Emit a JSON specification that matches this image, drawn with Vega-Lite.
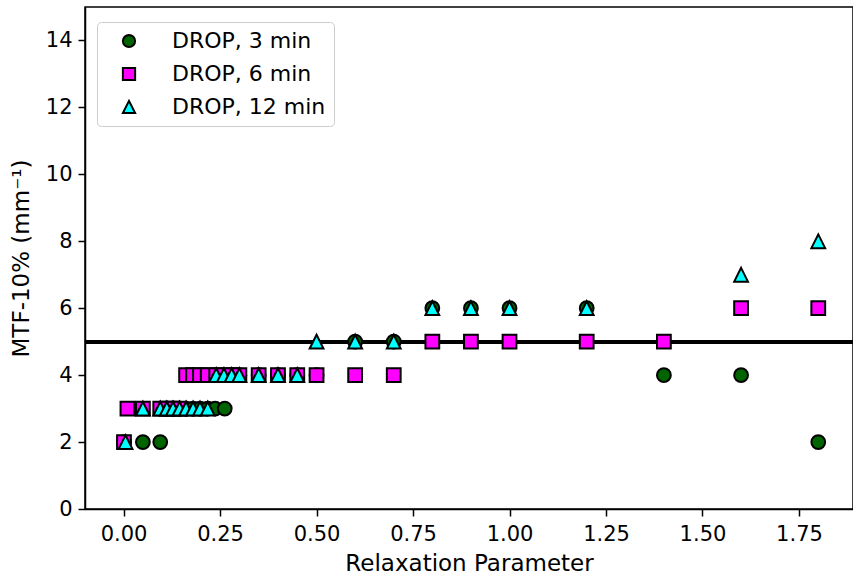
{
  "$schema": "https://vega.github.io/schema/vega-lite/v6.json",
  "width": 768,
  "height": 502,
  "autosize": "none",
  "padding": {"left": 85, "top": 7, "right": 0, "bottom": 70},
  "background": "white",
  "config": {
    "font": "DejaVu Sans",
    "view": {"stroke": "black", "strokeWidth": 1.5},
    "axis": {
      "labelFont": "DejaVu Sans",
      "titleFont": "DejaVu Sans",
      "labelFontSize": 21,
      "titleFontSize": 23,
      "titleFontWeight": "normal",
      "labelColor": "black",
      "titleColor": "black",
      "domainColor": "black",
      "domainWidth": 1.5,
      "tickColor": "black",
      "tickWidth": 1.5,
      "tickSize": 7,
      "grid": false
    }
  },
  "data": {
    "values": [
      {"s": "DROP, 3 min", "x": 0.001, "y": 2},
      {"s": "DROP, 3 min", "x": 0.05, "y": 2},
      {"s": "DROP, 3 min", "x": 0.095, "y": 2},
      {"s": "DROP, 3 min", "x": 0.112, "y": 3},
      {"s": "DROP, 3 min", "x": 0.128, "y": 3},
      {"s": "DROP, 3 min", "x": 0.145, "y": 3},
      {"s": "DROP, 3 min", "x": 0.162, "y": 3},
      {"s": "DROP, 3 min", "x": 0.18, "y": 3},
      {"s": "DROP, 3 min", "x": 0.198, "y": 3},
      {"s": "DROP, 3 min", "x": 0.218, "y": 3},
      {"s": "DROP, 3 min", "x": 0.237, "y": 3},
      {"s": "DROP, 3 min", "x": 0.262, "y": 3},
      {"s": "DROP, 3 min", "x": 0.28, "y": 4},
      {"s": "DROP, 3 min", "x": 0.3, "y": 4},
      {"s": "DROP, 3 min", "x": 0.35, "y": 4},
      {"s": "DROP, 3 min", "x": 0.4, "y": 4},
      {"s": "DROP, 3 min", "x": 0.45, "y": 4},
      {"s": "DROP, 3 min", "x": 0.5, "y": 4},
      {"s": "DROP, 3 min", "x": 0.6, "y": 5},
      {"s": "DROP, 3 min", "x": 0.7, "y": 5},
      {"s": "DROP, 3 min", "x": 0.8, "y": 6},
      {"s": "DROP, 3 min", "x": 0.9, "y": 6},
      {"s": "DROP, 3 min", "x": 1.0, "y": 6},
      {"s": "DROP, 3 min", "x": 1.2, "y": 6},
      {"s": "DROP, 3 min", "x": 1.4, "y": 4},
      {"s": "DROP, 3 min", "x": 1.6, "y": 4},
      {"s": "DROP, 3 min", "x": 1.8, "y": 2},
      {"s": "DROP, 6 min", "x": 0.001, "y": 2},
      {"s": "DROP, 6 min", "x": 0.01, "y": 3},
      {"s": "DROP, 6 min", "x": 0.05, "y": 3},
      {"s": "DROP, 6 min", "x": 0.095, "y": 3},
      {"s": "DROP, 6 min", "x": 0.112, "y": 3},
      {"s": "DROP, 6 min", "x": 0.128, "y": 3},
      {"s": "DROP, 6 min", "x": 0.145, "y": 3},
      {"s": "DROP, 6 min", "x": 0.162, "y": 4},
      {"s": "DROP, 6 min", "x": 0.18, "y": 4},
      {"s": "DROP, 6 min", "x": 0.198, "y": 4},
      {"s": "DROP, 6 min", "x": 0.218, "y": 4},
      {"s": "DROP, 6 min", "x": 0.24, "y": 4},
      {"s": "DROP, 6 min", "x": 0.26, "y": 4},
      {"s": "DROP, 6 min", "x": 0.28, "y": 4},
      {"s": "DROP, 6 min", "x": 0.3, "y": 4},
      {"s": "DROP, 6 min", "x": 0.35, "y": 4},
      {"s": "DROP, 6 min", "x": 0.4, "y": 4},
      {"s": "DROP, 6 min", "x": 0.45, "y": 4},
      {"s": "DROP, 6 min", "x": 0.5, "y": 4},
      {"s": "DROP, 6 min", "x": 0.6, "y": 4},
      {"s": "DROP, 6 min", "x": 0.7, "y": 4},
      {"s": "DROP, 6 min", "x": 0.8, "y": 5},
      {"s": "DROP, 6 min", "x": 0.9, "y": 5},
      {"s": "DROP, 6 min", "x": 1.0, "y": 5},
      {"s": "DROP, 6 min", "x": 1.2, "y": 5},
      {"s": "DROP, 6 min", "x": 1.4, "y": 5},
      {"s": "DROP, 6 min", "x": 1.6, "y": 6},
      {"s": "DROP, 6 min", "x": 1.8, "y": 6},
      {"s": "DROP, 12 min", "x": 0.005, "y": 2},
      {"s": "DROP, 12 min", "x": 0.05, "y": 3},
      {"s": "DROP, 12 min", "x": 0.095, "y": 3},
      {"s": "DROP, 12 min", "x": 0.112, "y": 3},
      {"s": "DROP, 12 min", "x": 0.128, "y": 3},
      {"s": "DROP, 12 min", "x": 0.145, "y": 3},
      {"s": "DROP, 12 min", "x": 0.162, "y": 3},
      {"s": "DROP, 12 min", "x": 0.18, "y": 3},
      {"s": "DROP, 12 min", "x": 0.198, "y": 3},
      {"s": "DROP, 12 min", "x": 0.218, "y": 3},
      {"s": "DROP, 12 min", "x": 0.24, "y": 4},
      {"s": "DROP, 12 min", "x": 0.26, "y": 4},
      {"s": "DROP, 12 min", "x": 0.28, "y": 4},
      {"s": "DROP, 12 min", "x": 0.3, "y": 4},
      {"s": "DROP, 12 min", "x": 0.35, "y": 4},
      {"s": "DROP, 12 min", "x": 0.4, "y": 4},
      {"s": "DROP, 12 min", "x": 0.45, "y": 4},
      {"s": "DROP, 12 min", "x": 0.5, "y": 5},
      {"s": "DROP, 12 min", "x": 0.6, "y": 5},
      {"s": "DROP, 12 min", "x": 0.7, "y": 5},
      {"s": "DROP, 12 min", "x": 0.8, "y": 6},
      {"s": "DROP, 12 min", "x": 0.9, "y": 6},
      {"s": "DROP, 12 min", "x": 1.0, "y": 6},
      {"s": "DROP, 12 min", "x": 1.2, "y": 6},
      {"s": "DROP, 12 min", "x": 1.6, "y": 7},
      {"s": "DROP, 12 min", "x": 1.8, "y": 8}
    ]
  },
  "layer": [
    {
      "mark": {"type": "rule", "color": "black", "strokeWidth": 3},
      "encoding": {"y": {"datum": 5, "type": "quantitative"}}
    },
    {
      "mark": {"type": "point", "filled": true, "strokeWidth": 2, "size": 190, "opacity": 1},
      "encoding": {
        "x": {
          "field": "x", "type": "quantitative",
          "scale": {"domain": [-0.1, 1.89], "nice": false, "zero": false},
          "axis": {"values": [0, 0.25, 0.5, 0.75, 1, 1.25, 1.5, 1.75], "format": ".2f", "title": "Relaxation Parameter", "titlePadding": 8, "labelPadding": 7}
        },
        "y": {
          "field": "y", "type": "quantitative",
          "scale": {"domain": [0, 15], "nice": false},
          "axis": {"values": [0, 2, 4, 6, 8, 10, 12, 14], "title": "MTF-10% (mm⁻¹)", "titlePadding": 12, "labelPadding": 6}
        },
        "stroke": {
          "field": "s", "type": "nominal",
          "scale": {"domain": ["DROP, 3 min", "DROP, 6 min", "DROP, 12 min"], "range": ["black", "black", "black"]}
        },
        "shape": {
          "field": "s", "type": "nominal",
          "scale": {"domain": ["DROP, 3 min", "DROP, 6 min", "DROP, 12 min"], "range": ["M1,0A1,1,0,1,1,-1,0A1,1,0,1,1,1,0Z", "M-1,-1L1,-1L1,1L-1,1Z", "M0,-1L1,1L-1,1Z"]},
          "legend": {
            "title": null,
            "orient": "none",
            "legendX": 12,
            "legendY": 15,
            "labelFontSize": 22,
            "labelFont": "DejaVu Sans",
            "labelColor": "black",
            "symbolSize": 150,
            "symbolStrokeWidth": 2,
            "symbolOpacity": 1,
            "labelOffset": 32,
            "rowPadding": 11,
            "padding": 8,
            "fillColor": "white",
            "strokeColor": "#cccccc",
            "cornerRadius": 4,
            "symbolOffset": 13,
            "labelLimit": 300
          }
        },
        "fill": {
          "field": "s", "type": "nominal",
          "scale": {"domain": ["DROP, 3 min", "DROP, 6 min", "DROP, 12 min"], "range": ["#006400", "#ff00ff", "#00ffff"]}
        }
      }
    }
  ]
}
